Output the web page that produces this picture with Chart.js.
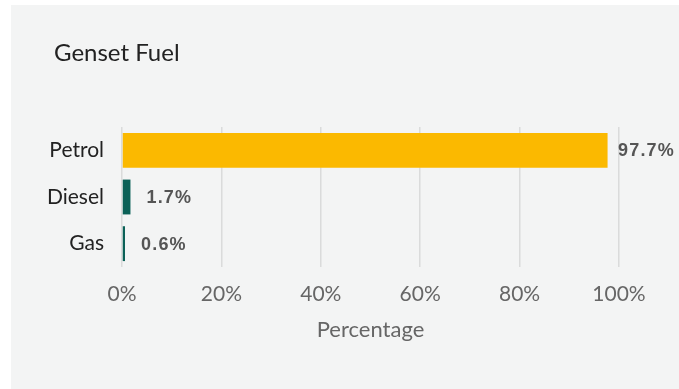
<!DOCTYPE html>
<html lang="en">
<head>
    <meta charset="UTF-8">
    <title>Genset Fuel</title>
    <style>
        body {
            margin: 0;
            background: #ffffff;
        }
        #panel {
            position: absolute;
            left: 11px;
            top: 5px;
            width: 668px;
            height: 384px;
            background: #f3f4f4;
        }
    </style>
    <script src="https://cdn.jsdelivr.net/npm/chart.js"></script>
</head>
<body>
    <div id="panel">
        <canvas id="fuel-chart" width="668" height="384"></canvas>
    </div>

    <script>
        // Fuel types and share of gensets using each (percent)
        const categories = ['Petrol', 'Diesel', 'Gas'];
        const shares = [97.7, 1.7, 0.6];
        const barColors = ['#fbb900', '#0b6157', '#0b6157'];
        const xMax = 100;
        const xStep = 20;
        const chartTitle = 'Genset Fuel';

        // Title sits further right than the axis labels, so draw it by hand
        const titleText = {
            id: 'titleText',
            afterDraw(chart) {
                const ctx = chart.ctx;
                ctx.save();
                ctx.font = '24px Lato, sans-serif';
                ctx.fillStyle = '#222222';
                ctx.textBaseline = 'alphabetic';
                ctx.textAlign = 'left';
                ctx.fillText(chartTitle, 43, 56);
                ctx.restore();
            }
        };

        // Value labels at the end of each bar, kept inside the canvas
        const valueLabels = {
            id: 'valueLabels',
            afterDatasetsDraw(chart) {
                const ctx = chart.ctx;
                const meta = chart.getDatasetMeta(0);
                ctx.save();
                ctx.font = 'bold 18px Arial, Helvetica, sans-serif';
                ctx.letterSpacing = '1.2px';
                ctx.fillStyle = '#555555';
                ctx.textBaseline = 'middle';
                ctx.textAlign = 'left';
                meta.data.forEach((bar, i) => {
                    const text = shares[i].toFixed(1) + '%';
                    const w = ctx.measureText(text).width;
                    let x = bar.x + 16;
                    x = Math.min(x, chart.width - w - 4);
                    ctx.fillText(text, x, bar.y + 1);
                });
                ctx.restore();
            }
        };

        const ctx = document.getElementById('fuel-chart').getContext('2d');
        new Chart(ctx, {
            type: 'bar',
            data: {
                labels: categories,
                datasets: [{
                    label: 'Percentage',
                    data: shares,
                    backgroundColor: barColors,
                    borderWidth: 0,
                    barPercentage: 0.9,
                    categoryPercentage: 0.83
                }]
            },
            options: {
                indexAxis: 'y',
                responsive: false,
                animation: false,
                layout: {
                    padding: { top: 122, left: 0, right: 60, bottom: 46 }
                },
                plugins: {
                    legend: { display: false },
                    tooltip: { enabled: false },
                    title: { display: false }
                },
                scales: {
                    x: {
                        min: 0,
                        max: xMax,
                        grid: {
                            color: 'rgba(0,0,0,0.1)',
                            lineWidth: 1.5,
                            drawTicks: false
                        },
                        border: { display: false },
                        ticks: {
                            stepSize: xStep,
                            padding: 15,
                            color: '#666666',
                            font: { family: 'Lato, sans-serif', size: 21 },
                            callback: v => v + '%'
                        },
                        title: {
                            display: true,
                            text: 'Percentage',
                            color: '#666666',
                            font: { family: 'Lato, sans-serif', size: 22 },
                            padding: { top: 0, bottom: 0 }
                        },
                        afterFit(scale) {
                            scale.height = 76;
                        }
                    },
                    y: {
                        grid: { display: false },
                        border: { display: false },
                        ticks: {
                            padding: 10,
                            color: '#222222',
                            font: { family: 'Lato, sans-serif', size: 21 }
                        },
                        afterFit(scale) {
                            scale.width = 111;
                        }
                    }
                }
            },
            plugins: [valueLabels, titleText]
        });
    </script>
</body>
</html>
